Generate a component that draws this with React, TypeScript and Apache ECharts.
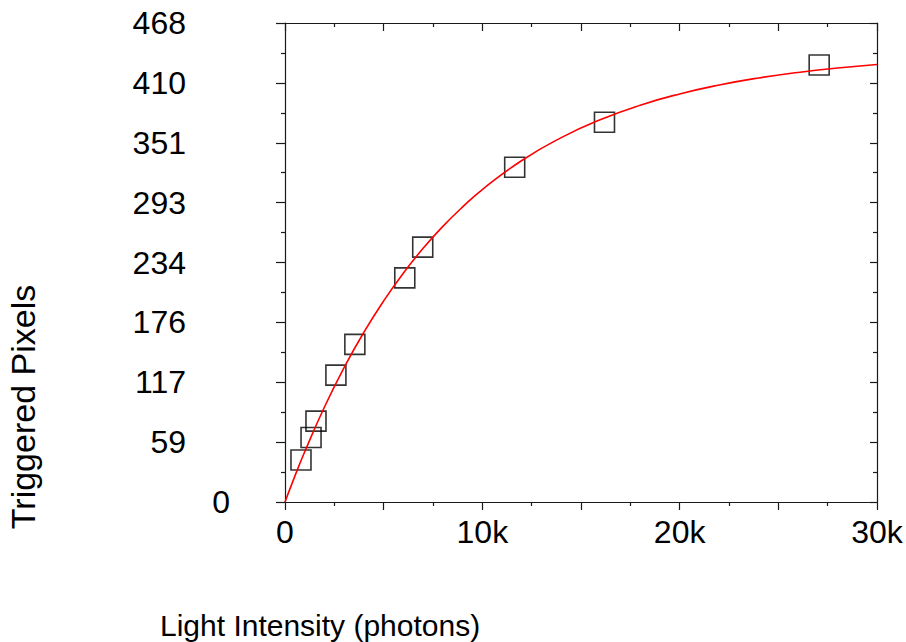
import React, { useEffect, useRef } from "react";
import * as echarts from "echarts";

const xTitle = "Light Intensity (photons)";
const yTitle = "Triggered Pixels";

// measured data (photons, triggered pixels)
const measX = [810, 1320, 1570, 2580, 3540, 6070, 6980, 11640, 16190, 27070];
const measY = [41, 63, 79, 124, 154, 219, 249, 327, 371, 427];

// fitted curve
const fitX = [0, 500, 1000, 2000, 3000, 4000, 5000, 6000, 7000, 8000, 9000, 10000, 12000, 14000, 16000, 18000, 20000, 22000, 24000, 26000, 28000, 30000];
const fitY = [0, 25.3, 49.1, 92.8, 131.5, 165.9, 196.5, 223.7, 247.9, 269.3, 288.3, 305.3, 333.7, 356.0, 373.7, 387.7, 398.7, 407.4, 414.3, 419.7, 424.0, 427.4];

const yTickLabels = ["0", "59", "117", "176", "234", "293", "351", "410", "468"];
const xTickLabels = ["0", "10k", "20k", "30k"];

const FONT = "'Liberation Sans', Arial, Helvetica, sans-serif";
const AXIS_COLOR = "#1a1a1a";

export default function App() {
  const ref = useRef<HTMLDivElement>(null);
  useEffect(() => {
    if (!ref.current) return;
    const chart = echarts.init(ref.current, undefined, { renderer: "svg" });
    const lineStyle = { color: AXIS_COLOR, width: 1.2 };
    const commonX = {
      type: "value",
      min: 0,
      max: 30000,
      interval: 5000,
      splitLine: { show: false },
      axisLine: { show: true, onZero: false, lineStyle },
      minorTick: { show: true, splitNumber: 2, length: 4, lineStyle },
    };
    const commonY = {
      type: "value",
      min: 0,
      max: 468,
      interval: 58.5,
      splitLine: { show: false },
      axisLine: { show: true, onZero: false, lineStyle },
      minorTick: { show: true, splitNumber: 2, length: 4, lineStyle },
    };
    chart.setOption({
      animation: false,
      backgroundColor: "#ffffff",
      grid: { left: 285, right: 29, top: 23, bottom: 140, containLabel: false },
      xAxis: [
        {
          ...commonX,
          position: "bottom",
          axisTick: { show: true, inside: false, length: 8, lineStyle },
          axisLabel: {
            show: true,
            margin: 14,
            fontSize: 32,
            fontFamily: FONT,
            color: "#000",
            formatter: (v: number) => {
              if (v % 10000 !== 0) return "";
              return xTickLabels[Math.round(v / 10000)] ?? "";
            },
          },
        },
        {
          ...commonX,
          position: "top",
          axisTick: { show: true, inside: true, length: 8, lineStyle },
          axisLabel: { show: false },
        },
      ],
      yAxis: [
        {
          ...commonY,
          position: "left",
          axisTick: { show: true, inside: false, length: 9, lineStyle },
          axisLabel: {
            show: true,
            margin: 55,
            fontSize: 32,
            fontFamily: FONT,
            color: "#000",
            formatter: (v: number) => {
              const i = Math.round(v / 58.5);
              const t = yTickLabels[i] ?? "";
              return i === 0 ? "{z|" + t + "}" : "{n|" + t + "}";
            },
            rich: {
              z: { fontSize: 32, fontFamily: FONT, color: "#000" },
              n: { fontSize: 32, fontFamily: FONT, color: "#000", padding: [0, 44, 0, 0] },
            },
          },
        },
        {
          ...commonY,
          position: "right",
          axisTick: { show: true, inside: true, length: 7, lineStyle },
          axisLabel: { show: false },
        },
      ],
      series: [
        {
          type: "scatter",
          data: measX.map((x, i) => [x, measY[i]]),
          symbol: "rect",
          symbolSize: 20,
          z: 2,
          itemStyle: { color: "rgba(0,0,0,0)", borderColor: "#000", borderWidth: 1.6 },
        },
        {
          type: "line",
          data: fitX.map((x, i) => [x, fitY[i]]),
          smooth: true,
          showSymbol: false,
          z: 3,
          lineStyle: { color: "#ff0000", width: 1.6 },
        },
      ],
      graphic: [
        {
          type: "text",
          left: 160,
          top: 610,
          style: { text: xTitle, fontSize: 30, fontFamily: FONT, fill: "#000" },
        },
        {
          type: "text",
          x: 23,
          y: 407,
          rotation: Math.PI / 2,
          style: {
            text: yTitle,
            fontSize: 34,
            fontFamily: FONT,
            fill: "#000",
            align: "center",
            verticalAlign: "middle",
          },
        },
      ],
    });
    return () => chart.dispose();
  }, []);
  return <div ref={ref} style={{ width: 906, height: 642, position: "absolute", left: 0, top: 0 }} />;
}
